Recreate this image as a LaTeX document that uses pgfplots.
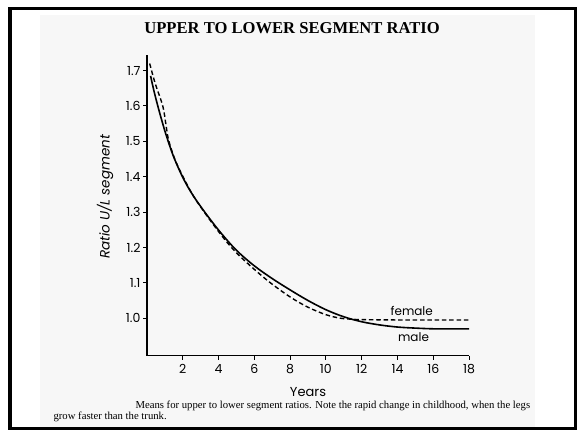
\documentclass[border=0pt]{standalone}
\usepackage{fontspec}
\setmainfont{Liberation Serif}
\setsansfont{Poppins}
\usepackage{pgfplots}
\pgfplotsset{compat=1.18}
\begin{document}
\begin{tikzpicture}
\useasboundingbox (0pt,0pt) rectangle (578pt,431pt);
\fill[white] (0pt,0pt) rectangle (578pt,431pt);
\fill[black!3] (40pt,4pt) rectangle (535pt,416pt);
\draw[line width=3.5pt] (10pt,2.5pt) rectangle (575.5pt,422.5pt);
\node[font=\bfseries\fontsize{16.6}{16.6}\selectfont] at (292pt,403pt) {UPPER TO LOWER SEGMENT RATIO};
\begin{axis}[
  at={(147pt,75.3pt)}, anchor=south west,
  scale only axis, width=322pt, height=300.7pt,
  xmin=0, xmax=18, ymin=0.894, ymax=1.744,
  axis x line=bottom, axis y line=left,
  axis line style={-, line width=1.1pt},
  xtick={2,4,6,8,10,12,14,16,18},
  ytick={1.0,1.1,1.2,1.3,1.4,1.5,1.6,1.7},
  yticklabel style={/pgf/number format/fixed, /pgf/number format/fixed zerofill, /pgf/number format/precision=1, xshift=1pt},
  /pgf/number format/assume math mode=true,
  tick align=outside, major tick length=4pt,
  tick style={black, line width=1pt},
  ticklabel style={font=\sffamily\fontsize{12.5}{12.5}\selectfont},
  xticklabel style={yshift=-1.5pt},
  clip=false,
]
% male (solid)
\addplot[black, line width=1.6pt, smooth, tension=0.55] coordinates {
(0.2,1.685) (0.4,1.640) (0.63,1.595) (0.85,1.555) (1.1,1.513) (1.5,1.455)
(2.03,1.395) (2.6,1.345) (3.33,1.293) (4.1,1.243) (5,1.192) (6,1.148)
(7,1.112) (8,1.080) (9,1.050) (10,1.024) (11,1.004) (12,0.990) (13,0.981)
(14,0.975) (15,0.972) (16,0.970) (17,0.970) (18,0.970)};
% female (dashed)
\addplot[black, line width=1.4pt, dash pattern=on 4.5pt off 2.8pt, smooth, tension=0.55] coordinates {
(0.15,1.720) (0.45,1.665) (0.88,1.600) (1.05,1.550) (1.2,1.505) (1.55,1.450)
(2.03,1.398) (2.6,1.345) (3.3,1.293) (4.0,1.245) (4.6,1.207) (5.2,1.175)
(6,1.138) (6.9,1.100) (8,1.060) (9,1.031) (10,1.010) (10.8,1.000)
(11.5,0.997) (12,0.996) (14,0.995) (16,0.995) (18,0.995)};
\node[font=\sffamily\fontsize{12}{12}\selectfont] at (axis cs:14.8,1.020) {female};
\node[font=\sffamily\fontsize{12}{12}\selectfont] at (axis cs:14.9,0.946) {male};
\end{axis}
\node[rotate=90, font=\sffamily\itshape\fontsize{13.5}{13.5}\selectfont] at (105pt,234pt) {Ratio U/L segment};
\node[font=\sffamily\fontsize{13}{13}\selectfont] at (308pt,39pt) {Years};
\node[anchor=base west, font=\fontsize{10.7}{10.7}\selectfont] at (132pt,23pt) {Means for upper to lower segment ratios. Note the rapid change in childhood, when the legs};
\node[anchor=base west, font=\fontsize{10.7}{10.7}\selectfont] at (50pt,12pt) {grow faster than the trunk.};
\end{tikzpicture}
\end{document}
